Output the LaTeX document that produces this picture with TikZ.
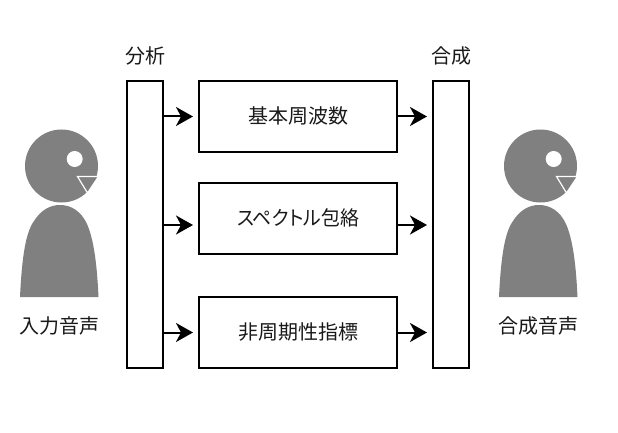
\documentclass[tikz,border=0pt]{standalone}
\usepackage{fontspec}
\setmainfont{Noto Sans CJK JP}
\usetikzlibrary{arrows.meta,positioning}
\definecolor{bodygrey}{RGB}{128,128,128}
\definecolor{inkblack}{RGB}{25,25,25}
\tikzset{
  barbox/.style={draw=black,line width=2pt,fill=white,minimum width=36pt,minimum height=287pt,inner sep=0pt},
  featbox/.style={draw=black,line width=2pt,fill=white,minimum width=198pt,minimum height=71pt,inner sep=0pt},
  lbl/.style={text=inkblack,font=\fontsize{20}{20}\selectfont,inner sep=0pt},
  arr/.style={-{Stealth[length=17pt,width=19pt,inset=5pt]},line width=2pt,black,shorten >=5pt}
}
\begin{document}
\begin{tikzpicture}[x=1pt,y=-1pt]
  \useasboundingbox (0,0) rectangle (618,433);
  % Analysis and synthesis bars
  \node[barbox] (anaBar) at (145,224.5) {};
  \node[barbox] (synBar) at (451,224.5) {};
  \node[lbl] (anaLbl) at (145,56) {分析};
  \node[lbl] (synLbl) at (451,56) {合成};
  % Feature boxes
  \node[featbox] (f0Box) at (298,116.5) {};
  \node[featbox] (envBox) at (298,218.5) {};
  \node[featbox] (apBox) at (298,332.5) {};
  \node[lbl] (f0Lbl) at (298,116) {基本周波数};
  \node[lbl] (envLbl) at (298,218) {\scalebox{0.945}[1]{\addfontfeature{RawFeature=+palt}スペクトル包絡}};
  \node[lbl] (apLbl) at (298,332) {非周期性指標};
  % Arrows
  \coordinate (envRow) at (298,225);
  \draw[arr] (anaBar.east |- f0Box) -- (f0Box.west);
  \draw[arr] (anaBar.east |- envRow) -- (envBox.west |- envRow);
  \draw[arr] (anaBar.east |- apBox) -- (apBox.west);
  \draw[arr] (f0Box.east) -- (synBar.west |- f0Box);
  \draw[arr] (envBox.east |- envRow) -- (synBar.west |- envRow);
  \draw[arr] (apBox.east) -- (synBar.west |- apBox);
  % Speakers
  \foreach \xx in {0,479}{
    \begin{scope}[xshift=\xx pt]
      \fill[bodygrey] (61.5,166) circle (36.5);
      \fill[white] (74.7,159) circle (8);
      \filldraw[bodygrey,draw=white,line width=1.2pt] (77.5,176.5) -- (98.5,176.5) -- (87.5,193) -- cycle;
      \fill[bodygrey] (20,297) .. controls (22,255) and (26,232) .. (34,221)
        .. controls (41,210) and (50,205) .. (60,205)
        .. controls (71,205) and (81,211) .. (87,224)
        .. controls (94,240) and (97,265) .. (98.5,297) -- cycle;
    \end{scope}
  }
  \node[lbl] (inLbl) at (59,326) {入力音声};
  \node[lbl] (outLbl) at (538,326) {合成音声};
\end{tikzpicture}
\end{document}
